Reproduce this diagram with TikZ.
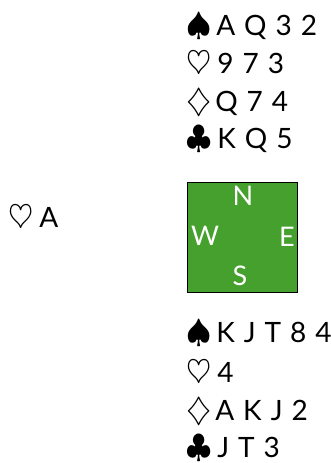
\documentclass[tikz,border=0pt]{standalone}
\usepackage{fontspec}
\setmainfont{Lato}[WordSpace=1.25]
\definecolor{felt}{RGB}{70,160,46}
\newcommand{\suitS}{\scalebox{1.3}{$\spadesuit$}\hspace{5pt}}
\newcommand{\suitH}{\scalebox{1.3}{$\heartsuit$}\hspace{6pt}}
\newcommand{\suitD}{\scalebox{1.3}{$\diamondsuit$}\hspace{4pt}}
\newcommand{\suitC}{\scalebox{1.3}{$\clubsuit$}\hspace{6pt}}
\begin{document}
\begin{tikzpicture}[x=1pt,y=-1pt,
  hand/.style={anchor=base west,inner sep=0pt,font=\fontsize{28}{32}\selectfont},
  seat/.style={inner sep=0pt,text=white,font=\fontsize{27}{30}\selectfont}]
\useasboundingbox (0,0) rectangle (331,463);
% North
\node[hand] (n1) at (186,35) {\suitS A Q 3 2};
\node[hand] (n2) at (186,73) {\suitH 9 7 3};
\node[hand] (n3) at (186,111) {\suitD Q 7 4};
\node[hand] (n4) at (186,148) {\suitC K Q 5};
% West
\node[hand] (w1) at (8,227) {\suitH A};
% Table
\node[draw=black,line width=1pt,fill=felt,minimum size=110pt,inner sep=0pt] (table) at (242.5,237) {};
\node[seat,anchor=base] (N) at (243,205) {N};
\node[seat,anchor=base] (W) at (205,245) {W};
\node[seat,anchor=base] (E) at (287,246) {E};
\node[seat,anchor=base] (S) at (240,285) {S};
% South
\node[hand] (s1) at (186,342) {\suitS K J T 8 4};
\node[hand] (s2) at (186,382) {\suitH 4};
\node[hand] (s3) at (186,420) {\suitD A K J 2};
\node[hand] (s4) at (186,457) {\suitC J T 3};
\end{tikzpicture}
\end{document}
